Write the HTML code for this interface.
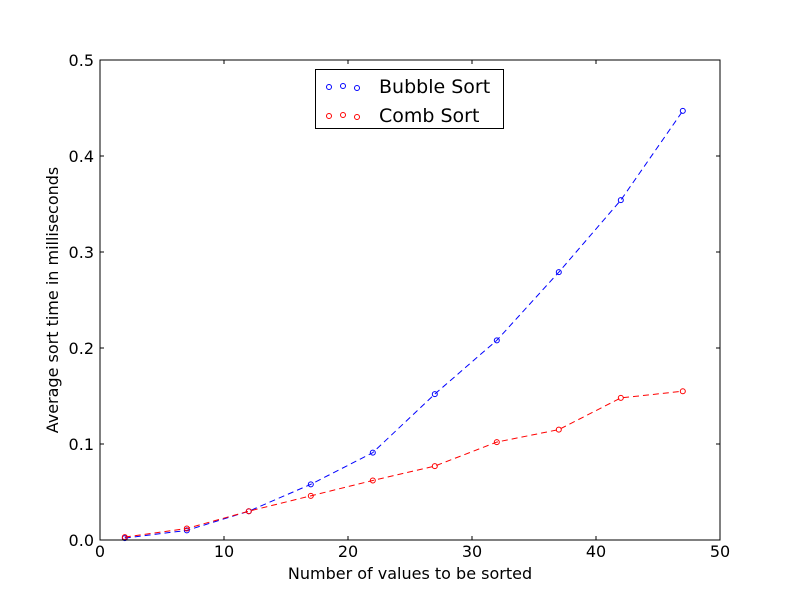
<!DOCTYPE html>
<html><head><meta charset="utf-8"><style>
html,body{margin:0;padding:0;background:#fff;}
svg{display:block;font-family:"DejaVu Sans","Liberation Sans",sans-serif;}
</style></head><body>
<svg id="chart" width="800" height="600" viewBox="0 0 800 600">
<rect x="0" y="0" width="800" height="600" fill="#fff"/>
<g id="plot"></g>
<rect x="100" y="60" width="620" height="480" fill="none" stroke="#000" stroke-width="1"/>
<text x="410" y="579" font-size="16" text-anchor="middle">Number of values to be sorted</text>
<text transform="translate(58,300) rotate(-90)" font-size="16" text-anchor="middle">Average sort time in milliseconds</text>
<g>
<rect x="315.5" y="69.5" width="188" height="59" fill="#fff" stroke="#000" stroke-width="1"/>
<g>
<circle cx="329" cy="87" r="2.5" fill="none" stroke="#00f"/><circle cx="343" cy="86" r="2.5" fill="none" stroke="#00f"/><circle cx="357" cy="88" r="2.5" fill="none" stroke="#00f"/>
<text x="379" y="93" font-size="19">Bubble Sort</text></g>
<g>
<circle cx="329" cy="116" r="2.5" fill="none" stroke="#f00"/><circle cx="343" cy="115" r="2.5" fill="none" stroke="#f00"/><circle cx="357" cy="117" r="2.5" fill="none" stroke="#f00"/>
<text x="379" y="122" font-size="19">Comb Sort</text></g>
</g>
</svg>
<script>
const xValues=[2,7,12,17,22,27,32,37,42,47];
const bubbleValues=[0.002,0.010,0.030,0.058,0.091,0.152,0.208,0.279,0.354,0.447];
const combValues=[0.003,0.012,0.030,0.046,0.062,0.077,0.102,0.115,0.148,0.155];
const xTicks=[0,10,20,30,40,50];
const yTicks=[0.0,0.1,0.2,0.3,0.4,0.5];
const xTickLabels=["0","10","20","30","40","50"];
const yTickLabels=["0.0","0.1","0.2","0.3","0.4","0.5"];
const NS="http://www.w3.org/2000/svg";
const X0=100,X1=720,Y0=540,Y1=60;
function sx(v){return X0+(v-0)/(50-0)*(X1-X0);}
function sy(v){return Y0-(v-0)/(0.5-0)*(Y0-Y1);}
const g=document.getElementById('plot');
function mk(t,a){const e=document.createElementNS(NS,t);for(const k in a)e.setAttribute(k,a[k]);g.appendChild(e);return e;}
xTicks.forEach((t,i)=>{
 const x=sx(t);
 const a=mk('line',{x1:x,x2:x,y1:Y0,y2:Y0-4,stroke:'#000'});
 
 
 const b=mk('line',{x1:x,x2:x,y1:Y1,y2:Y1+4,stroke:'#000'});
 
 
 const l=mk('text',{x:x,y:557,'font-size':16,'text-anchor':'middle'});
 l.textContent=xTickLabels[i];
 
 
});
yTicks.forEach((t,i)=>{
 const y=sy(t);
 const a=mk('line',{x1:X0,x2:X0+4,y1:y,y2:y,stroke:'#000'});
 
 
 const b=mk('line',{x1:X1,x2:X1-4,y1:y,y2:y,stroke:'#000'});
 
 
 const l=mk('text',{x:94,y:y+6,'font-size':16,'text-anchor':'end'});
 l.textContent=yTickLabels[i];
 
 
});
function series(vals,color,name){
 const p=mk('polyline',{points:xValues.map((x,i)=>sx(x)+','+sy(vals[i])).join(' '),fill:'none',stroke:color,'stroke-width':1,'stroke-dasharray':'6,4'});
 
 
 xValues.forEach((x,i)=>{
  const c=mk('circle',{cx:sx(x),cy:sy(vals[i]),r:2.5,fill:'none',stroke:color,'stroke-width':1});
  
  
 });
}
series(bubbleValues,'#00f','bubble-sort');
series(combValues,'#f00','comb-sort');
</script>
</body></html>
